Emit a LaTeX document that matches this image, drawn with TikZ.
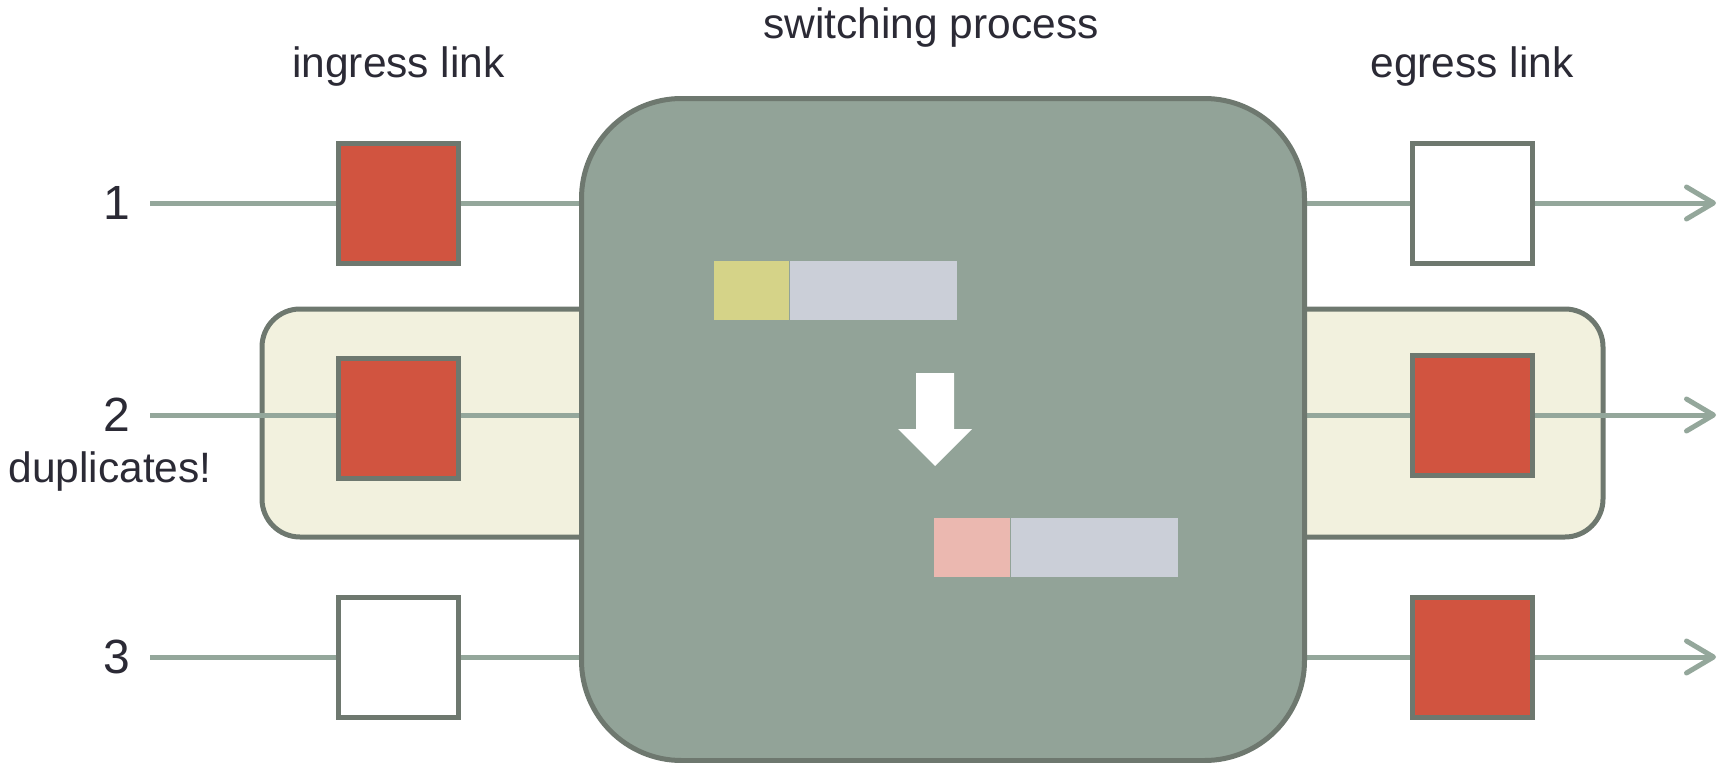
\documentclass[tikz,border=0pt]{standalone}
\usepackage{fontspec}
\setmainfont{Liberation Sans}
\usetikzlibrary{arrows.meta}
\pgfdeclarelayer{background}
\pgfsetlayers{background,main}

\definecolor{swfill}{HTML}{92A398}
\definecolor{edge}{HTML}{6E786F}
\definecolor{wire}{HTML}{94A79B}
\definecolor{cellred}{HTML}{D15440}
\definecolor{dupbg}{HTML}{F2F1DE}
\definecolor{hdrY}{HTML}{D5D388}
\definecolor{hdrP}{HTML}{EBB8B0}
\definecolor{payload}{HTML}{CBCFD8}
\definecolor{ink}{HTML}{2B2A35}

\tikzset{
  label text/.style={text=ink, font=\fontsize{42.5}{50}\selectfont, inner sep=0pt, anchor=base},
  portnum/.style={text=ink, font=\fontsize{48}{56}\selectfont, inner sep=0pt, anchor=east},
  cell/.style={draw=edge, line width=5pt, minimum width=120pt, minimum height=120pt, inner sep=0pt},
  fullcell/.style={cell, fill=cellred},
  emptycell/.style={cell, fill=white},
  wireline/.style={draw=wire, line width=5pt},
  outwire/.style={wireline, -{Straight Barb[length=27pt,width=32pt,round]}},
  bar/.style={inner sep=0pt, minimum height=59pt, anchor=west},
}

\begin{document}
\begin{tikzpicture}[x=1pt, y=-1pt]
\useasboundingbox (0,0) rectangle (1719,763);

% headings
\node[label text] (hin)  at (398.5,77) {ingress link};
\node[label text] (hsw)  at (931,38)   {switching process};
\node[label text] (hout) at (1472,77)  {egress link};

% port numbers and wire start points
\node[portnum] (d1) at (130,203) {1};
\node[portnum] (d2) at (130,415) {2};
\node[portnum] (d3) at (130,657) {3};
\node[label text] (dup) at (110,482) {duplicates!};
\coordinate (s1) at (150,203);
\coordinate (s2) at (150,415);
\coordinate (s3) at (150,657);

% switch fabric
\node[draw=edge, fill=swfill, line width=5pt, rounded corners=100pt,
      minimum width=723pt, minimum height=662pt, inner sep=0pt] (sw) at (943,429.5) {};

% ingress cells
\node[fullcell]  (in1) at (398.5,203) {};
\node[fullcell]  (in2) at (398.5,418) {};
\node[emptycell] (in3) at (398.5,657) {};

% egress cells
\node[emptycell] (out1) at (1472,203) {};
\node[fullcell]  (out2) at (1472,415) {};
\node[fullcell]  (out3) at (1472,657) {};

% arrow ends
\coordinate (t1) at (1716,203);
\coordinate (t2) at (1716,415);
\coordinate (t3) at (1716,657);

% header rewrite inside the fabric
\node[bar, fill=hdrY, minimum width=75pt]  (h1) at (714,290.5) {};
\node[bar, fill=payload, minimum width=167pt] (p1) at (h1.east) {};
\node[bar, fill=hdrP, minimum width=76pt]  (h2) at (934,547.5) {};
\node[bar, fill=payload, minimum width=167pt] (p2) at (h2.east) {};
\fill[white] (916,373) -- (954,373) -- (954,429) -- (972,429) -- (935,466)
             -- (898,429) -- (916,429) -- cycle;

\begin{pgfonlayer}{background}
  % duplicated port highlight
  \node[draw=edge, fill=dupbg, line width=5pt, rounded corners=38pt,
        minimum width=1341pt, minimum height=228pt, inner sep=0pt] (dupzone) at (932.5,423) {};
  % links
  \draw[wireline] (s1) -- (sw.west |- s1);
  \draw[wireline] (s2) -- (sw.west |- s2);
  \draw[wireline] (s3) -- (sw.west |- s3);
  \draw[outwire] (sw.east |- t1) -- (t1);
  \draw[outwire] (sw.east |- t2) -- (t2);
  \draw[outwire] (sw.east |- t3) -- (t3);
\end{pgfonlayer}
\end{tikzpicture}
\end{document}
